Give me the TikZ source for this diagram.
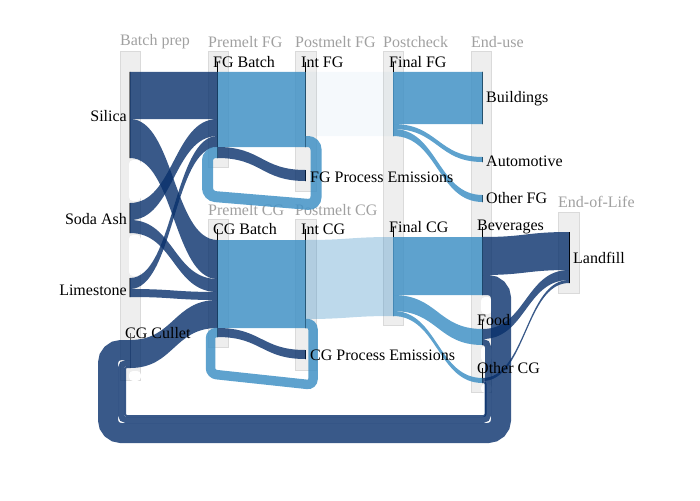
\documentclass[tikz,border=0pt]{standalone}
\usepackage{fontspec}
\setmainfont{Liberation Serif}
\usetikzlibrary{calc}
\definecolor{darkflow}{RGB}{8,48,107}
\definecolor{lightflow}{RGB}{66,146,198}
\definecolor{boxgray}{RGB}{238,238,238}
\definecolor{boxline}{RGB}{218,218,218}
\definecolor{colgray}{RGB}{160,160,160}
% band between two nodes: style, source, offset, target, offset, width
\newcommand{\flow}[6]{%
  \fill[#1] let \p1=(#2), \p2=(#4), \p3=($(#2)!.5!(#4)$) in
    (\x1,\y1-#3pt) .. controls (\x3,\y1-#3pt) and (\x3,\y2-#5pt) .. (\x2,\y2-#5pt)
    -- (\x2,\y2-#5pt-#6pt) .. controls (\x3,\y2-#5pt-#6pt) and (\x3,\y1-#3pt-#6pt) .. (\x1,\y1-#3pt-#6pt) -- cycle;}
\begin{document}
\begin{tikzpicture}[x=1pt, y=-1pt]
    \tikzstyle{every node}=[font=\fontsize{16}{19}\selectfont, inner sep=0pt]
    \tikzstyle{stage}=[fill=boxgray, draw=boxline, line width=1pt]
    \tikzstyle{heading}=[text=colgray, anchor=west]
    \tikzstyle{lbl}=[anchor=west]
    \tikzstyle{lblleft}=[anchor=east]
    \tikzstyle{rawbar}=[draw=gray, line width=1.5pt, minimum width=0pt, anchor=north, outer sep=0pt]
    \tikzstyle{nodebar}=[draw=black, line width=1pt, minimum width=0pt, anchor=north, outer sep=0pt]
    \tikzstyle{stem}=[draw=black, line width=1pt]
    \tikzstyle{darkband}=[fill=darkflow, fill opacity=0.8]
    \tikzstyle{lightband}=[fill=lightflow, fill opacity=0.85]
    \tikzstyle{paleband}=[fill=lightflow, fill opacity=0.35]
    \tikzstyle{faintband}=[fill=lightflow, fill opacity=0.05]
    \tikzstyle{darkloop}=[draw=darkflow, draw opacity=0.8]
    \tikzstyle{lightloop}=[draw=lightflow, draw opacity=0.85]
    \tikzstyle{notch}=[fill=white, rounded corners=4pt]
    \useasboundingbox (0,0) rectangle (700,500);

    % columns
    \draw[stage] (120,52) rectangle (140,380);
    \draw[stage] (208,52) rectangle (228,167);
    \draw[stage] (208,219) rectangle (228,347);
    \draw[stage] (295,52) rectangle (316,191);
    \draw[stage] (295,219) rectangle (316,370);
    \draw[stage] (383,52) rectangle (403,325);
    \draw[stage] (471,52) rectangle (491,392);
    \draw[stage] (558,212) rectangle (579,293);
    \fill[notch] (129,160) rectangle (141,201);
    \fill[notch] (129,235) rectangle (141,276);
    \fill[notch] (129,371) rectangle (141,381);
    \fill[notch] (481,297) rectangle (492,314);
    \fill[notch] (481,346) rectangle (492,362);
    \fill[notch] (481,384) rectangle (492,393);

    \node[heading] (hbatch) at (120,42) {Batch prep};
    \node[heading] (hpremfg) at (208,42) {Premelt FG};
    \node[heading] (hpostfg) at (295,42) {Postmelt FG};
    \node[heading] (hcheck) at (383,42) {Postcheck};
    \node[heading] (huse) at (471,42) {End-use};
    \node[heading] (hpremcg) at (208,210) {Premelt CG};
    \node[heading] (hpostcg) at (295,210) {Postmelt CG};
    \node[heading] (hlife) at (558,202) {End-of-Life};

    % nodes
    \node[rawbar, minimum height=86pt] (silica) at (130,72) {};
    \node[rawbar, minimum height=30pt] (soda) at (130,203) {};
    \node[rawbar, minimum height=19pt] (lime) at (130,278) {};
    \node[nodebar, draw=gray!80!black, minimum height=28pt] (cullet) at (130,340) {};
    \node[nodebar, minimum height=86pt] (fgbatch) at (217.5,72) {};
    \node[nodebar, minimum height=97pt] (cgbatch) at (217.5,240) {};
    \node[nodebar, minimum height=75pt] (intfg) at (305.5,72) {};
    \node[nodebar, minimum height=11pt] (fgem) at (305.5,170) {};
    \node[nodebar, minimum height=88pt] (intcg) at (305.5,240) {};
    \node[nodebar, minimum height=9pt] (cgem) at (305.5,350) {};
    \node[nodebar, minimum height=64pt] (finalfg) at (393,72) {};
    \node[nodebar, minimum height=79pt] (finalcg) at (393,237) {};
    \node[nodebar, minimum height=52pt] (buildings) at (482.5,72) {};
    \node[nodebar, minimum height=5pt] (auto) at (482.5,157) {};
    \node[nodebar, minimum height=7pt] (otherfg) at (482.5,195) {};
    \node[nodebar, minimum height=58pt] (bev) at (482.5,237) {};
    \node[nodebar, minimum height=16pt] (food) at (482.5,329) {};
    \node[nodebar, minimum height=5pt] (othercg) at (482.5,378) {};
    \node[nodebar, minimum height=51pt] (landfill) at (569,232) {};

    % flows
    \flow{darkband}{silica.north}{0}{fgbatch.north}{0}{47}
    \flow{darkband}{silica.north}{47}{cgbatch.north}{0}{39}
    \flow{darkband}{soda.north}{0}{fgbatch.north}{47}{17}
    \flow{darkband}{soda.north}{17}{cgbatch.north}{39}{13}
    \flow{darkband}{lime.north}{0}{fgbatch.north}{64}{11}
    \flow{darkband}{lime.north}{11}{cgbatch.north}{52}{8}
    \flow{darkband}{cullet.north}{0}{cgbatch.north}{60}{28}
    \flow{lightband}{fgbatch.north}{0}{intfg.north}{0}{75}
    \flow{darkband}{fgbatch.north}{75}{fgem.north}{0}{11}
    \flow{lightband}{cgbatch.north}{0}{intcg.north}{0}{88}
    \flow{darkband}{cgbatch.north}{88}{cgem.north}{0}{9}
    \flow{faintband}{intfg.north}{0}{finalfg.north}{0}{64}
    \flow{paleband}{intcg.north}{0}{finalcg.north}{0}{79}
    \flow{lightband}{finalfg.north}{0}{buildings.north}{0}{52}
    \flow{lightband}{finalfg.north}{52}{auto.north}{0}{5}
    \flow{lightband}{finalfg.north}{57}{otherfg.north}{0}{7}
    \flow{lightband}{finalcg.north}{0}{bev.north}{0}{58}
    \flow{lightband}{finalcg.north}{58}{food.north}{0}{16}
    \flow{lightband}{finalcg.north}{74}{othercg.north}{0}{5}
    \flow{darkband}{bev.north}{0}{landfill.north}{0}{38}
    \flow{darkband}{food.north}{0}{landfill.north}{38}{10}
    \flow{darkband}{othercg.north}{0}{landfill.north}{48}{3}

    % cullet loops
    \draw[lightloop, line width=11pt, rounded corners=8pt] ($(intfg.north)+(0,69.5)$) -- (316,141.5)
        -- (316,205) -- (207.5,196) -- (207.5,152.5) -- ($(fgbatch.north)+(0,80.5)$);
    \draw[lightloop, line width=9.5pt, rounded corners=6pt] ($(intcg.north)+(0,83.5)$) -- (313,323.5)
        -- (313,385) -- (210.5,374) -- (210.5,332.5) -- ($(cgbatch.north)+(0,92.5)$);
    \draw[darkloop, line width=20pt, rounded corners=13pt] ($(bev.north)+(0,48)$) -- (501,285)
        -- (501,433) -- (108,433) -- (108,350) -- ($(cullet.north)+(0,10)$);
    \draw[darkloop, line width=6pt, rounded corners=5pt] ($(food.north)+(0,13)$) -- (488,342)
        -- (488,420) -- (121,420) -- (121,363) -- ($(cullet.north)+(0,23)$);
    \draw[darkloop, line width=2pt, rounded corners=2pt] ($(othercg.north)+(0,4)$) -- (485.5,382)
        -- (485.5,416) -- (125,416) -- (125,367) -- ($(cullet.north)+(0,27)$);

    % labels
    \node[lblleft] (lsilica) at (127,116) {Silica};
    \node[lblleft] (lsoda) at (127,219) {Soda Ash};
    \node[lblleft] (llime) at (127,290) {Limestone};
    \node[lbl] (lcullet) at (125,333) {CG Cullet};
    \node[lbl] (lfgbatch) at (213,62) {FG Batch};
    \node[lbl] (lintfg) at (301,62) {Int FG};
    \node[lbl] (lfgem) at (310,177) {FG Process Emissions};
    \node[lbl] (lcgbatch) at (213,229) {CG Batch};
    \node[lbl] (lintcg) at (301,229) {Int CG};
    \node[lbl] (lcgem) at (310,355) {CG Process Emissions};
    \node[lbl] (lfinalfg) at (389,62) {Final FG};
    \node[lbl] (lfinalcg) at (389,227) {Final CG};
    \node[lbl] (lbuildings) at (486,99) {Buildings};
    \node[lbl] (lauto) at (486,161) {Automotive};
    \node[lbl] (lotherfg) at (486,198) {Other FG};
    \node[lbl] (lbev) at (477,227) {Beverages};
    \node[lbl] (lfood) at (477,320) {Food};
    \node[lbl] (lothercg) at (477,368) {Other CG};
    \node[lbl] (llandfill) at (573,258) {Landfill};

    % stems from labels down to nodes
    \draw[stem] (fgbatch.north) -- (fgbatch.north |- lfgbatch.center);
    \draw[stem] (intfg.north) -- (intfg.north |- lintfg.center);
    \draw[stem] (finalfg.north) -- (finalfg.north |- lfinalfg.center);
    \draw[stem] (cgbatch.north) -- (cgbatch.north |- lcgbatch.center);
    \draw[stem] (intcg.north) -- (intcg.north |- lintcg.center);
    \draw[stem] (finalcg.north) -- (finalcg.north |- lfinalcg.center);
    \draw[stem] (bev.north) -- (bev.north |- lbev.center);
    \draw[stem] (food.north) -- (food.north |- lfood.center);
    \draw[stem] (othercg.north) -- (othercg.north |- lothercg.center);
    \draw[stem, draw=gray!80!black] (cullet.north) -- (cullet.north |- lcullet.center);
\end{tikzpicture}
\end{document}
